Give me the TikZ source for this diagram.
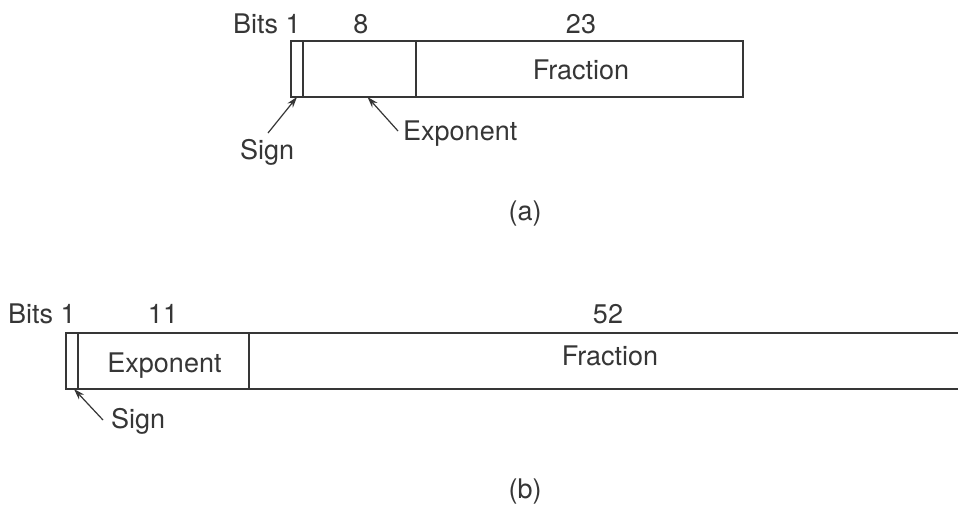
\documentclass[tikz,border=0pt]{standalone}
\usepackage{fontspec}
\setmainfont{TeX Gyre Heros}
\usetikzlibrary{arrows.meta}
\definecolor{ink}{HTML}{363636}
\tikzset{
  field/.style={draw=ink, line width=1.5pt, minimum height=56pt, inner sep=0pt, outer sep=0pt},
  lbl/.style={text=ink, font=\fontsize{27}{30}\selectfont, inner sep=0pt, anchor=base},
  ptr/.style={draw=ink, line width=1.2pt, -{Stealth[length=11pt,width=7pt]}}
}
\begin{document}
\begin{tikzpicture}[x=1pt,y=-1pt]
\clip (0,0) rectangle (958,512);
\fill[white] (0,0) rectangle (958,512);
% (a) single precision
\node[field, minimum width=12pt] (as) at (297,69) {};
\node[field, minimum width=113pt] (ae) at (359.5,69) {};
\node[field, minimum width=327pt] (af) at (579.5,69) {};
\node[lbl, anchor=base west] (abits) at (233,33) {Bits 1};
\node[lbl] (a8) at (361,33) {8};
\node[lbl] (a23) at (581,33) {23};
\node[lbl] (afr) at (581,79) {Fraction};
\node[lbl, anchor=base west] (asign) at (240,159) {Sign};
\node[lbl, anchor=base west] (aexp) at (403,140) {Exponent};
\coordinate (asT) at (268,133);
\coordinate (aeT) at (398,131);
\draw[ptr] (asT) -- (as.south);
\draw[ptr] (aeT) -- ([xshift=8pt]ae.south);
\node[lbl] (acap) at (525,220) {(a)};
% (b) double precision
\node[field, minimum width=12pt] (bs) at (72,361) {};
\node[field, minimum width=171pt] (be) at (163.5,361) {};
\node[field, minimum width=740pt, anchor=west] (bf) at (be.east) {};
\node[lbl, anchor=base west] (bbits) at (8,323) {Bits 1};
\node[lbl] (b11) at (163,323) {11};
\node[lbl] (b52) at (608,323) {52};
\node[lbl] (bexp) at (164.5,372) {Exponent};
\node[lbl] (bfr) at (610,365) {Fraction};
\node[lbl, anchor=base west] (bsign) at (111,428) {Sign};
\coordinate (bsT) at (103,420);
\draw[ptr] (bsT) -- ([xshift=2pt]bs.south);
\node[lbl] (bcap) at (525,498) {(b)};
\end{tikzpicture}
\end{document}
